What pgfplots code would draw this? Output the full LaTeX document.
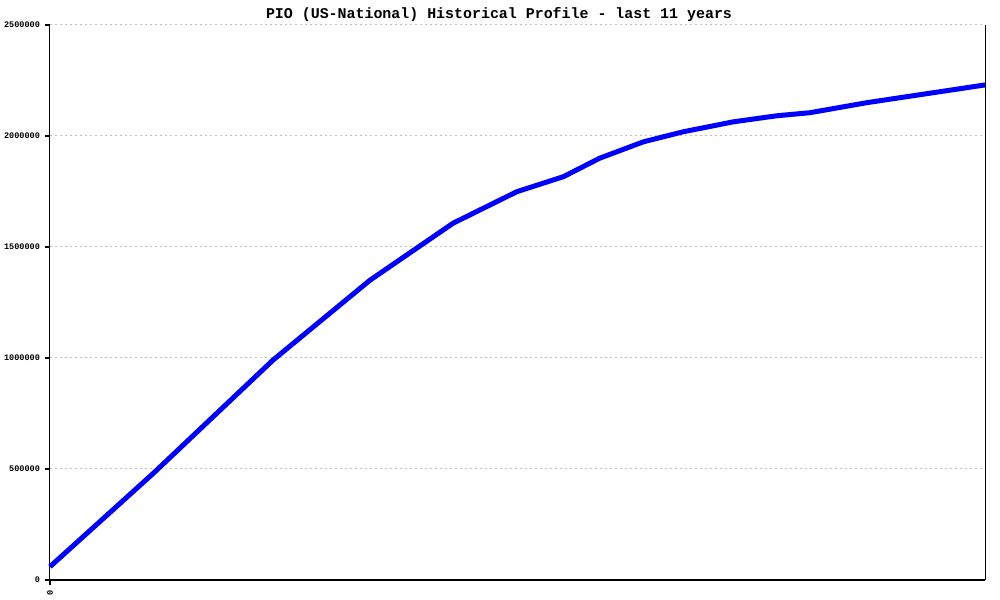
\documentclass[border=0pt]{standalone}
\usepackage{pgfplots}
\pgfplotsset{compat=1.18}
\usepackage{fontspec}
\setmainfont{Liberation Mono}
\definecolor{gridgray}{RGB}{192,192,192}
\begin{document}
\begin{tikzpicture}
\useasboundingbox (-37.5pt,-15pt) rectangle (712.5pt,435pt);
\begin{axis}[
  at={(0,0)}, anchor=south west,
  scale only axis,
  width=701.25pt, height=416.25pt,
  xmin=0, xmax=132, ymin=0, ymax=2500000,
  axis x line=bottom, axis y line=left,
  axis line style={-, black, line width=0.75pt},
  xtick={0}, xticklabels={0},
  ytick={0,500000,1000000,1500000,2000000,2500000},
  scaled y ticks=false,
  yticklabel style={/pgf/number format/fixed,/pgf/number format/1000 sep={}},
  /pgf/number format/assume math mode=true,
  tick label style={font=\fontsize{6.4}{7}\selectfont\bfseries},
  xticklabel style={rotate=90, anchor=east},
  xtick align=outside, ytick align=outside,
  major tick length=4pt,
  xtick style={draw=black, line width=1pt},
  ytick style={draw=black, line width=1pt},
  ymajorgrids, grid style={gridgray, line width=0.75pt, dash pattern=on 1.5pt off 2.25pt},
  clip=false,
]
\addplot[color={rgb,255:red,0;green,0;blue,255}, line width=3.75pt, line join=round] coordinates {
(0,60000) (14.6,481000) (31.5,991000) (45.2,1351000) (56.9,1607000)
(65.9,1749000) (72.5,1817000) (77.6,1900000) (83.8,1974000) (89.4,2019000)
(96.5,2064000) (102.6,2091000) (107.3,2105000) (115.3,2150000) (132,2230000)
};
\draw[black, line width=0.75pt] (rel axis cs:1,0) -- (rel axis cs:1,1);
\pgfplotsinvokeforeach{0,500000,1000000,1500000,2000000,2500000}{
  \draw[black, line width=1pt] (axis cs:0,#1) -- ++(-4pt,0pt);
}
\end{axis}
\node[font=\fontsize{11.2}{13}\selectfont\bfseries] at (336.75pt,423.75pt) {PIO (US-National) Historical Profile - last 11 years};
\end{tikzpicture}
\end{document}
